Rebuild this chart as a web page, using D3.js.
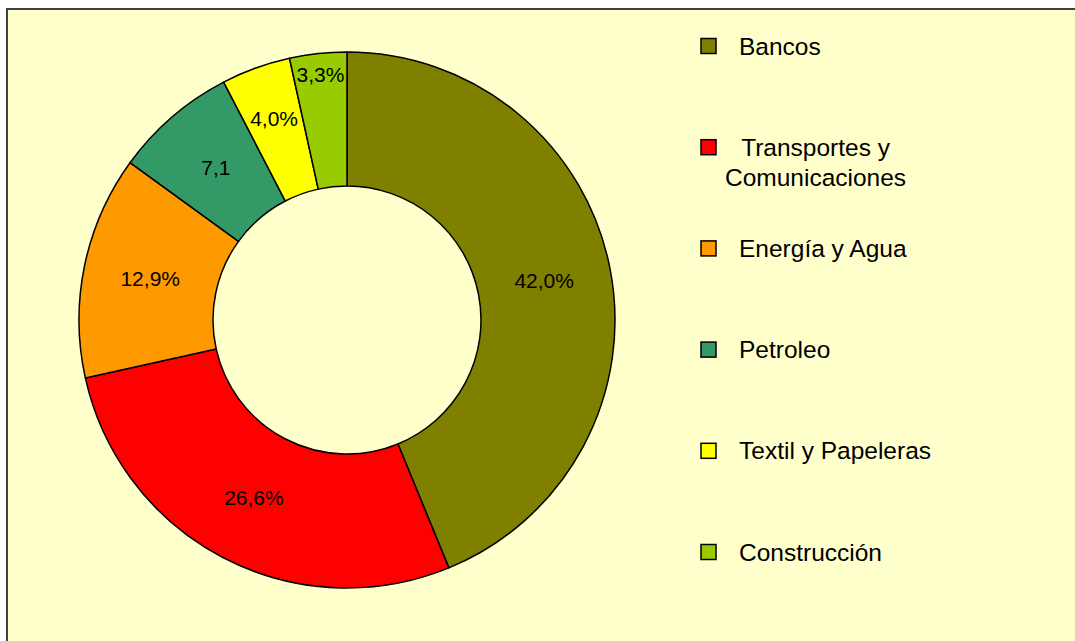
<!DOCTYPE html>
<html>
<head>
<meta charset="utf-8">
<script src="https://cdn.jsdelivr.net/npm/d3@7"></script>
<style>
  html, body { margin: 0; padding: 0; background: #ffffff; }
  svg { display: block; font-family: "Liberation Sans", Arial, sans-serif; }
</style>
</head>
<body>
<svg id="chart" width="1075" height="641"></svg>
<script>
// data
const sectors = ["Bancos", "Transportes y Comunicaciones", "Energía y Agua", "Petroleo", "Textil y Papeleras", "Construcción"];
const shares = [42.0, 26.6, 12.9, 7.1, 4.0, 3.3];
const shareLabels = ["42,0%", "26,6%", "12,9%", "7,1", "4,0%", "3,3%"];
const sectorColors = ["#808000", "#ff0000", "#ff9900", "#339966", "#ffff00", "#99cc00"];

const width = 1075, height = 641;
const cx = 347, cy = 320;
const outerR = 268, innerR = 134;
const labelSize = 21;

const svg = d3.select("svg#chart");

// chart area (runs off the right and bottom of the window like the reference)
svg.append("rect")
    .attr("x", 7).attr("y", 9)
    .attr("width", 1100).attr("height", 700)
    .attr("fill", "#ffffcc")
    .attr("stroke", "#404040")
    .attr("stroke-width", 2);

const color = d3.scaleOrdinal().domain(sectors).range(sectorColors);

const pie = d3.pie().sort(null).value(d => d.value);
const arc = d3.arc().innerRadius(innerR).outerRadius(outerR);

const rows = sectors.map((name, i) => ({ name, value: shares[i], label: shareLabels[i] }));
const arcs = pie(rows);

const g = svg.append("g").attr("transform", `translate(${cx},${cy})`);

g.selectAll("path.slice")
    .data(arcs)
    .enter()
    .append("path")
    .attr("class", "slice")
    .attr("d", arc)
    .attr("fill", d => color(d.data.name))
    .attr("stroke", "#000")
    .attr("stroke-width", 1.5)
    .attr("stroke-linejoin", "round");

// data labels: start at the centroid, push outward when the slice is too narrow
const labels = g.selectAll("text.lbl")
    .data(arcs)
    .enter()
    .append("text")
    .attr("class", "lbl")
    .attr("text-anchor", "middle")
    .attr("dy", "0.35em")
    .style("font-size", labelSize + "px")
    .attr("fill", "#000")
    .text(d => d.data.label);

labels.each(function(d) {
    const w = this.getComputedTextLength();
    const h = labelSize * 0.75;
    const mid = (d.startAngle + d.endAngle) / 2;
    const half = (d.endAngle - d.startAngle) / 2;
    const s = Math.abs(Math.sin(mid)), c = Math.abs(Math.cos(mid));
    const ev = w / 2 * c + h / 2 * s + 1;
    const eu = w / 2 * s + h / 2 * c;
    let r = (innerR + outerR) / 2;
    const need = ev / Math.tan(half) + eu;
    if (need > r) r = need;
    r = Math.min(r, outerR - eu - 4);
    d3.select(this)
        .attr("x", r * Math.sin(mid))
        .attr("y", -r * Math.cos(mid));
});

// legend
const legendY = d3.scalePoint().domain(sectors).range([46, 552]);
const boxX = 701, boxSize = 15, textX = 739, wrapWidth = 205;

const legend = svg.append("g").attr("class", "legend");

const item = legend.selectAll("g.item")
    .data(sectors)
    .enter()
    .append("g")
    .attr("class", "item")
    .attr("transform", d => `translate(0,${legendY(d)})`);

item.append("rect")
    .attr("x", boxX)
    .attr("y", -boxSize / 2)
    .attr("width", boxSize)
    .attr("height", boxSize)
    .attr("fill", d => color(d))
    .attr("stroke", "#000")
    .attr("stroke-width", 1.5);

item.each(function(name) {
    const it = d3.select(this);
    const t = it.append("text")
        .style("font-size", "24.5px")
        .attr("fill", "#000");
    // simple word wrap
    const words = name.split(" ");
    const lines = [];
    let line = "";
    words.forEach(w => {
        const test = line ? line + " " + w : w;
        t.text(test);
        if (line && t.node().getComputedTextLength() > wrapWidth) {
            lines.push(line);
            line = w;
        } else {
            line = test;
        }
    });
    lines.push(line);
    t.text(null);
    if (lines.length === 1) {
        t.append("tspan").attr("x", textX).attr("dy", "0.35em").text(lines[0]);
    } else {
        const widths = lines.map(l => { t.text(l); return t.node().getComputedTextLength(); });
        t.text(null);
        const centre = textX - 14 + d3.max(widths) / 2;
        t.attr("text-anchor", "middle");
        lines.forEach((l, i) => {
            t.append("tspan")
                .attr("x", centre)
                .attr("y", i * 30)
                .attr("dy", "0.35em")
                .text(l);
        });
    }
});
</script>
</body>
</html>
